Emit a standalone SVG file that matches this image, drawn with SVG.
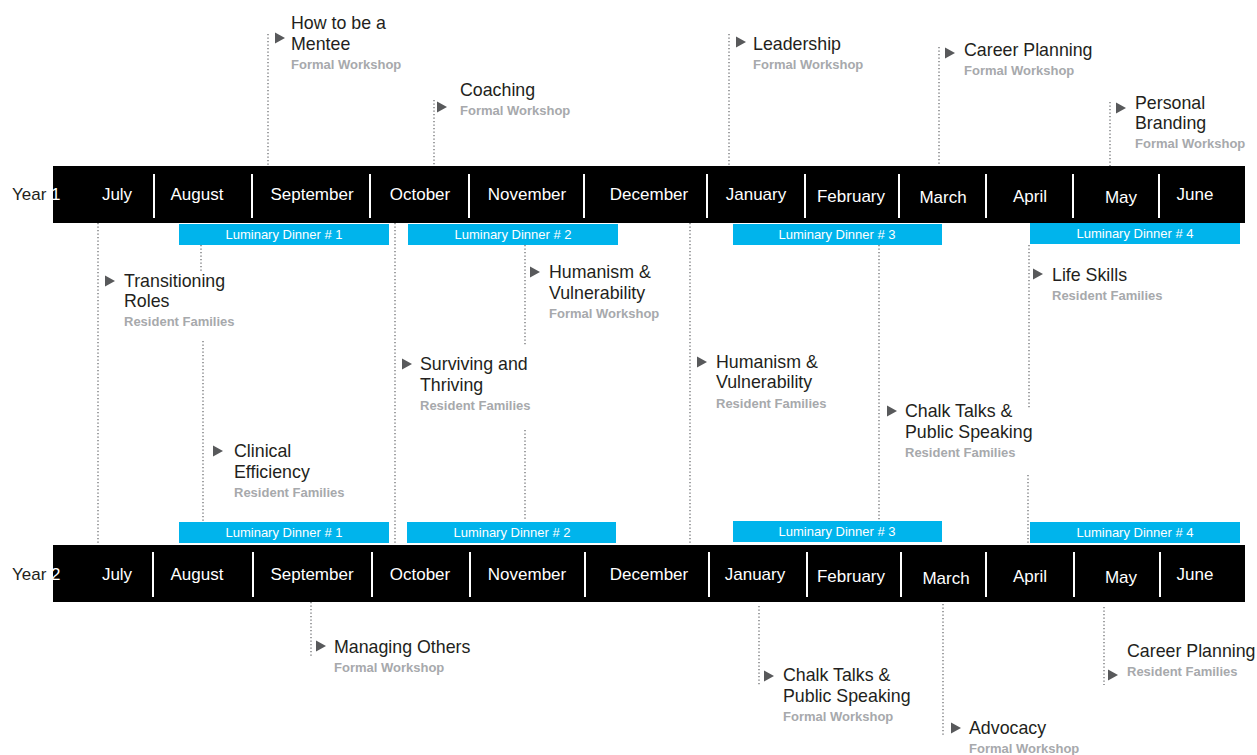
<svg xmlns="http://www.w3.org/2000/svg" width="1257" height="755" viewBox="0 0 1257 755">
  <style>
    .bar { fill: #000000; }
    .div { stroke: #ffffff; stroke-width: 2; }
    .month { font-family: "Liberation Sans", Arial, sans-serif; font-size: 17px; fill: #ffffff; text-anchor: middle; }
    .year { font-family: "Liberation Sans", Arial, sans-serif; font-size: 17px; fill: #231f20; }
    .dinner { fill: #00b4ec; }
    .dtext { font-family: "Liberation Sans", Arial, sans-serif; font-size: 13px; fill: #ffffff; text-anchor: middle; }
    .title { font-family: "Liberation Sans", Arial, sans-serif; font-size: 17.8px; fill: #231f20; }
    .sub { font-family: "Liberation Sans", Arial, sans-serif; font-size: 13px; font-weight: bold; fill: #a7a9ac; }
    .tri { fill: #58595b; }
    .link { stroke: #6d6e71; stroke-width: 1.3; stroke-dasharray: 1.3 2.2; fill: none; }
  </style>
  <defs>
    <path id="tri" d="M0,-5.5 L10,0 L0,5.5 Z"/>
  </defs>
  <rect width="1257" height="755" fill="#ffffff"/>

  <!-- dotted connectors -->
  <g id="connectors">
    <line class="link" x1="268" y1="34" x2="268" y2="166"/>
    <line class="link" x1="434" y1="100" x2="434" y2="166"/>
    <line class="link" x1="729" y1="34" x2="729" y2="166"/>
    <line class="link" x1="939" y1="47" x2="939" y2="166"/>
    <line class="link" x1="1110" y1="102" x2="1110" y2="166"/>

    <line class="link" x1="98" y1="223" x2="98" y2="545"/>
    <line class="link" x1="201" y1="245" x2="201" y2="271"/>
    <line class="link" x1="203" y1="341" x2="203" y2="521"/>
    <line class="link" x1="395" y1="223" x2="395" y2="545"/>
    <line class="link" x1="525" y1="245" x2="525" y2="345"/>
    <line class="link" x1="525" y1="430" x2="525" y2="521"/>
    <line class="link" x1="690" y1="223" x2="690" y2="545"/>
    <line class="link" x1="879" y1="245" x2="879" y2="521"/>
    <line class="link" x1="1029" y1="245" x2="1029" y2="409"/>
    <line class="link" x1="1028" y1="475" x2="1028" y2="545"/>

    <line class="link" x1="311" y1="602" x2="311" y2="657"/>
    <line class="link" x1="759" y1="606" x2="759" y2="685"/>
    <line class="link" x1="943" y1="604" x2="943" y2="737"/>
    <line class="link" x1="1104" y1="607" x2="1104" y2="685"/>
  </g>

  <!-- Year 1 timeline -->
  <g id="year1">
    <rect class="bar" x="53" y="166" width="1192" height="57"/>
    <text class="year" x="12" y="200">Year <tspan fill="#ffffff">1</tspan></text>
    <g class="div">
      <line x1="154" y1="174" x2="154" y2="218"/>
      <line x1="252" y1="174" x2="252" y2="218"/>
      <line x1="370" y1="174" x2="370" y2="218"/>
      <line x1="469" y1="174" x2="469" y2="218"/>
      <line x1="584" y1="174" x2="584" y2="218"/>
      <line x1="707" y1="174" x2="707" y2="218"/>
      <line x1="805" y1="174" x2="805" y2="218"/>
      <line x1="899" y1="174" x2="899" y2="218"/>
      <line x1="986" y1="174" x2="986" y2="218"/>
      <line x1="1073" y1="174" x2="1073" y2="218"/>
      <line x1="1159" y1="174" x2="1159" y2="218"/>
    </g>
    <text class="month" x="117" y="200">July</text>
    <text class="month" x="197" y="200">August</text>
    <text class="month" x="312" y="200">September</text>
    <text class="month" x="420" y="200">October</text>
    <text class="month" x="527" y="200">November</text>
    <text class="month" x="649" y="200">December</text>
    <text class="month" x="756" y="200">January</text>
    <text class="month" x="851" y="202">February</text>
    <text class="month" x="943" y="203">March</text>
    <text class="month" x="1030" y="202">April</text>
    <text class="month" x="1121" y="203">May</text>
    <text class="month" x="1195" y="200">June</text>
  </g>

  <!-- Year 2 timeline -->
  <g id="year2">
    <rect class="bar" x="53" y="545" width="1192" height="57"/>
    <text class="year" x="12" y="580">Year <tspan fill="#ffffff">2</tspan></text>
    <g class="div">
      <line x1="153" y1="552" x2="153" y2="597"/>
      <line x1="253" y1="552" x2="253" y2="597"/>
      <line x1="372" y1="552" x2="372" y2="597"/>
      <line x1="470" y1="552" x2="470" y2="597"/>
      <line x1="585" y1="552" x2="585" y2="597"/>
      <line x1="709" y1="552" x2="709" y2="597"/>
      <line x1="807" y1="552" x2="807" y2="597"/>
      <line x1="901" y1="552" x2="901" y2="597"/>
      <line x1="986" y1="552" x2="986" y2="597"/>
      <line x1="1074" y1="552" x2="1074" y2="597"/>
      <line x1="1160" y1="552" x2="1160" y2="597"/>
    </g>
    <text class="month" x="117" y="580">July</text>
    <text class="month" x="197" y="580">August</text>
    <text class="month" x="312" y="580">September</text>
    <text class="month" x="420" y="580">October</text>
    <text class="month" x="527" y="580">November</text>
    <text class="month" x="649" y="580">December</text>
    <text class="month" x="755" y="580">January</text>
    <text class="month" x="851" y="582">February</text>
    <text class="month" x="946" y="584">March</text>
    <text class="month" x="1030" y="582">April</text>
    <text class="month" x="1121" y="583">May</text>
    <text class="month" x="1195" y="580">June</text>
  </g>

  <!-- Luminary dinners -->
  <g id="dinner-y1-1"><rect class="dinner" x="179" y="224" width="210" height="21"/><text class="dtext" x="284" y="239">Luminary Dinner # 1</text></g>
  <g id="dinner-y1-2"><rect class="dinner" x="408" y="224" width="210" height="21"/><text class="dtext" x="513" y="239">Luminary Dinner # 2</text></g>
  <g id="dinner-y1-3"><rect class="dinner" x="733" y="224" width="209" height="21"/><text class="dtext" x="837" y="239">Luminary Dinner # 3</text></g>
  <g id="dinner-y1-4"><rect class="dinner" x="1030" y="223" width="210" height="21"/><text class="dtext" x="1135" y="238">Luminary Dinner # 4</text></g>
  <g id="dinner-y2-1"><rect class="dinner" x="179" y="522" width="210" height="21"/><text class="dtext" x="284" y="537">Luminary Dinner # 1</text></g>
  <g id="dinner-y2-2"><rect class="dinner" x="407" y="522" width="209" height="21"/><text class="dtext" x="512" y="537">Luminary Dinner # 2</text></g>
  <g id="dinner-y2-3"><rect class="dinner" x="733" y="521" width="209" height="21"/><text class="dtext" x="837" y="536">Luminary Dinner # 3</text></g>
  <g id="dinner-y2-4"><rect class="dinner" x="1030" y="522" width="210" height="21"/><text class="dtext" x="1135" y="537">Luminary Dinner # 4</text></g>

  <!-- Year 1 events above the bar -->
  <g id="how-to-be-a-mentee">
    <use href="#tri" class="tri" x="275" y="38"/>
    <text class="title" x="291" y="29">How to be a</text>
    <text class="title" x="291" y="50">Mentee</text>
    <text class="sub" x="291" y="69">Formal Workshop</text>
  </g>
  <g id="coaching">
    <use href="#tri" class="tri" x="437" y="107"/>
    <text class="title" x="460" y="96">Coaching</text>
    <text class="sub" x="460" y="115">Formal Workshop</text>
  </g>
  <g id="leadership">
    <use href="#tri" class="tri" x="736" y="42"/>
    <text class="title" x="753" y="50">Leadership</text>
    <text class="sub" x="753" y="69">Formal Workshop</text>
  </g>
  <g id="career-planning-1">
    <use href="#tri" class="tri" x="945" y="53"/>
    <text class="title" x="964" y="56">Career Planning</text>
    <text class="sub" x="964" y="75">Formal Workshop</text>
  </g>
  <g id="personal-branding">
    <use href="#tri" class="tri" x="1116" y="108"/>
    <text class="title" x="1135" y="109">Personal</text>
    <text class="title" x="1135" y="129">Branding</text>
    <text class="sub" x="1135" y="148">Formal Workshop</text>
  </g>

  <!-- events between the two years -->
  <g id="transitioning-roles">
    <use href="#tri" class="tri" x="105" y="281"/>
    <text class="title" x="124" y="287">Transitioning</text>
    <text class="title" x="124" y="307">Roles</text>
    <text class="sub" x="124" y="326">Resident Families</text>
  </g>
  <g id="clinical-efficiency">
    <use href="#tri" class="tri" x="213" y="451"/>
    <text class="title" x="234" y="457">Clinical</text>
    <text class="title" x="234" y="478">Efficiency</text>
    <text class="sub" x="234" y="497">Resident Families</text>
  </g>
  <g id="surviving-and-thriving">
    <use href="#tri" class="tri" x="402" y="364"/>
    <text class="title" x="420" y="370">Surviving and</text>
    <text class="title" x="420" y="391">Thriving</text>
    <text class="sub" x="420" y="410">Resident Families</text>
  </g>
  <g id="humanism-workshop">
    <use href="#tri" class="tri" x="530" y="272"/>
    <text class="title" x="549" y="278">Humanism &amp;</text>
    <text class="title" x="549" y="299">Vulnerability</text>
    <text class="sub" x="549" y="318">Formal Workshop</text>
  </g>
  <g id="humanism-families">
    <use href="#tri" class="tri" x="697" y="362"/>
    <text class="title" x="716" y="368">Humanism &amp;</text>
    <text class="title" x="716" y="388">Vulnerability</text>
    <text class="sub" x="716" y="408">Resident Families</text>
  </g>
  <g id="chalk-talks-families">
    <use href="#tri" class="tri" x="887" y="411"/>
    <text class="title" x="905" y="417">Chalk Talks &amp;</text>
    <text class="title" x="905" y="438">Public Speaking</text>
    <text class="sub" x="905" y="457">Resident Families</text>
  </g>
  <g id="life-skills">
    <use href="#tri" class="tri" x="1033" y="274"/>
    <text class="title" x="1052" y="281">Life Skills</text>
    <text class="sub" x="1052" y="300">Resident Families</text>
  </g>

  <!-- Year 2 events below the bar -->
  <g id="managing-others">
    <use href="#tri" class="tri" x="316" y="646"/>
    <text class="title" x="334" y="653">Managing Others</text>
    <text class="sub" x="334" y="672">Formal Workshop</text>
  </g>
  <g id="chalk-talks-workshop">
    <use href="#tri" class="tri" x="764" y="676"/>
    <text class="title" x="783" y="681">Chalk Talks &amp;</text>
    <text class="title" x="783" y="702">Public Speaking</text>
    <text class="sub" x="783" y="721">Formal Workshop</text>
  </g>
  <g id="advocacy">
    <use href="#tri" class="tri" x="951" y="728"/>
    <text class="title" x="969" y="734">Advocacy</text>
    <text class="sub" x="969" y="753">Formal Workshop</text>
  </g>
  <g id="career-planning-2">
    <use href="#tri" class="tri" x="1108" y="675"/>
    <text class="title" x="1127" y="657">Career Planning</text>
    <text class="sub" x="1127" y="676">Resident Families</text>
  </g>
</svg>
